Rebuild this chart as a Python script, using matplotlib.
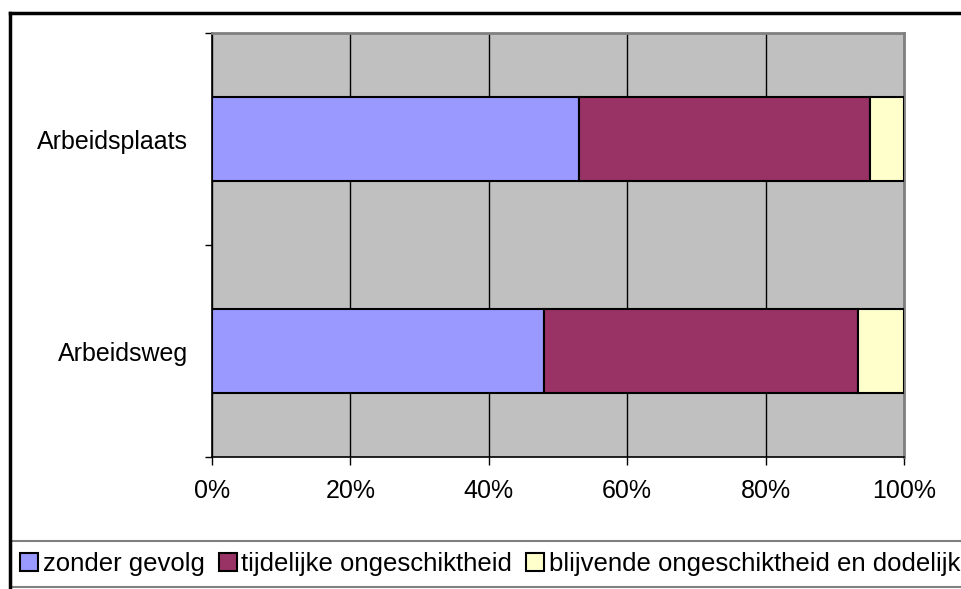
import matplotlib.pyplot as plt
from matplotlib.patches import Rectangle
from matplotlib.lines import Line2D
from matplotlib.ticker import FuncFormatter, MultipleLocator

plt.rcParams['font.family'] = ['Liberation Sans', 'DejaVu Sans']

categories = ["Arbeidsweg", "Arbeidsplaats"]
series_names = ["zonder gevolg", "tijdelijke ongeschiktheid",
                "blijvende ongeschiktheid en dodelijk"]
zonder = [48.0, 53.0]
tijdelijk = [45.4, 42.1]
blijvend = [6.6, 4.9]
colors = ["#9999FF", "#993366", "#FFFFCC"]

fig = plt.figure(figsize=(9.62, 5.89), dpi=100)
W, H = 962, 589
ax = fig.add_axes([212 / W, 1 - 457 / H, (904 - 212) / W, (457 - 33) / H])
ax.set_facecolor("#C0C0C0")

ypos = list(range(len(categories)))
left = [0, 0]
for vals, name, c in zip([zonder, tijdelijk, blijvend], series_names, colors):
    ax.barh(ypos, vals, left=left, height=0.4, color=c, edgecolor="black",
            linewidth=1.5, label=name, zorder=3)
    left = [l + v for l, v in zip(left, vals)]

ax.set_xlim(0, 100)
ax.set_ylim(-0.5, 1.5)
ax.xaxis.set_major_locator(MultipleLocator(20))
ax.xaxis.set_major_formatter(FuncFormatter(lambda v, p: "%d%%" % v))
ax.grid(axis="x", color="black", linewidth=1, zorder=1)
ax.set_axisbelow(True)

ax.set_yticks(ypos)
ax.set_yticklabels(categories, fontsize=18)
ax.set_yticks([-0.5, 0.5, 1.5], minor=True)
ax.tick_params(axis="y", which="major", length=0, pad=17)
ax.tick_params(axis="y", which="minor", length=5, width=1, direction="out")
ax.tick_params(axis="x", length=6, width=1, direction="out", labelsize=18, pad=10)

for s in ["top", "right"]:
    ax.spines[s].set_color("#808080")
    ax.spines[s].set_linewidth(2)
for s in ["left", "bottom"]:
    ax.spines[s].set_color("black")
    ax.spines[s].set_linewidth(1.2)

# outer chart frame
fig.add_artist(Line2D([9.5 / W, 1], [1 - 13 / H, 1 - 13 / H], transform=fig.transFigure,
                      color="black", linewidth=2.5))
fig.add_artist(Line2D([9.5 / W, 9.5 / W], [0, 1 - 13 / H], transform=fig.transFigure,
                      color="black", linewidth=2.5))

# legend box
fig.add_artist(Rectangle((11 / W, 2 / H), 1, (H - 541 - 2) / H,
                         transform=fig.transFigure, facecolor="white",
                         edgecolor="#808080", linewidth=1.5))
handles, labels = ax.get_legend_handles_labels()
fig.legend(handles, labels, loc="center left", bbox_to_anchor=(20 / W, 1 - 564 / H),
           ncol=3, frameon=False, fontsize=18.5, handlelength=0.7, handleheight=0.7,
           handletextpad=0.18, columnspacing=0.55, borderpad=0, borderaxespad=0)

fig.savefig("out.png", dpi=100)
